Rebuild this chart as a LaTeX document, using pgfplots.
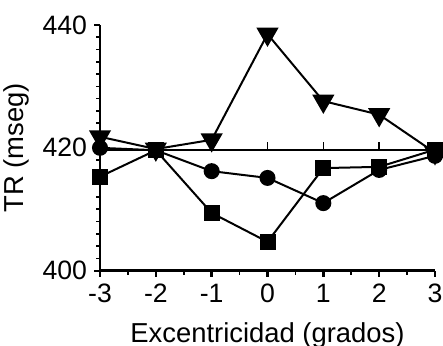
\documentclass[border=0pt]{standalone}
\usepackage{pgfplots}
\pgfplotsset{compat=1.18}
\usepackage{fontspec}
\setmainfont{Liberation Sans}
\begin{document}
\begin{tikzpicture}
\begin{axis}[
  at={(0,0)}, anchor=south west,
  scale only axis, width=167.5pt, height=122.9pt,
  xmin=-3, xmax=3, ymin=400, ymax=440,
  axis x line*=bottom, axis y line*=left,
  axis line style={line width=1.3pt, -},
  xtick={-3,...,3}, ytick={400,420,440},
  minor x tick num=1, minor y tick num=9,
  tick align=outside,
  major tick length=3pt, minor tick length=2pt,
  tick style={line width=1.2pt, black},
  minor tick style={line width=0.8pt},
  /pgf/number format/assume math mode=true,
  ticklabel style={font=\fontsize{13.3}{15}\selectfont},
  label style={font=\fontsize{13.7}{15}\selectfont},
  xlabel={Excentricidad (grados)},
  ylabel={TR (mseg)},
  xlabel style={yshift=-3pt},
  ylabel style={yshift=0pt},
  clip=false,
]
% reference line with ticks
\addplot[black, line width=1pt, no marks] coordinates {(-3,419.6) (3,419.6)};
\addplot[black, line width=0.7pt, no marks, unbounded coords=jump] coordinates {
 (-3,419.6) (-3,420.9) (-3,nan)
 (-2,419.6) (-2,420.9) (-2,nan)
 (-1,419.6) (-1,420.9) (-1,nan)
 (0,419.6) (0,420.9) (0,nan)
 (1,419.6) (1,420.9) (1,nan)
 (2,419.6) (2,420.9) (2,nan)
 (3,419.6) (3,420.9)};
% squares
\addplot[black, line width=1pt, mark=square*, mark size=3.5pt] coordinates {
 (-3,415.3) (-2,419.6) (-1,409.4) (0,404.7) (1,416.7) (2,416.9) (3,419.7)};
% circles
\addplot[black, line width=1pt, mark=*, mark size=3.5pt] coordinates {
 (-3,420.0) (-2,419.6) (-1,416.2) (0,415.1) (1,411.0) (2,416.4) (3,418.7)};
% down triangles
\addplot[black, line width=1pt, mark=triangle*, mark size=5.4pt, mark options={rotate=180}] coordinates {
 (-3,421.8) (-2,419.8) (-1,421.3) (0,438.5) (1,427.6) (2,425.4) (3,419.2)};
\end{axis}
\pgfresetboundingbox
\useasboundingbox (-50pt,-37.15pt) rectangle (171.5pt,135.35pt);
\end{tikzpicture}
\end{document}
